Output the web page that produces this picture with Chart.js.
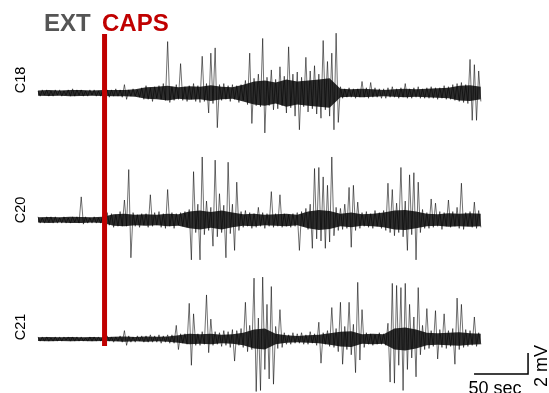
<!DOCTYPE html>
<html>
<head>
<meta charset="utf-8">
<script src="https://cdn.jsdelivr.net/npm/chart.js@4/dist/chart.umd.min.js"></script>
<style>
  body { margin: 0; background: #fff; }
  #wrap { width: 549px; height: 393px; }
</style>
</head>
<body>
<div id="wrap"><canvas id="traceChart" width="549" height="393"></canvas></div>
<script>
// one sample every 2 sec, values in mV
const STEP = 2;
const traceNames = ['C18', 'C20', 'C21'];

const c18 = [
  0.2,-0.3,0.3,-0.2,0.3,-0.3,0.2,-0.3,0.3,-0.2,
  0.3,-0.3,0.2,-0.2,0.3,-0.3,0.4,-0.3,0.3,-0.2,
  0.3,-0.3,0.2,-0.3,0.3,-0.2,0.3,-0.3,0.2,-0.3,
  0.3,-0.3,0.3,-0.4,0.3,-0.3,0.4,-0.3,0.3,-0.4,
  0.8,-0.6,0.3,-0.3,0.4,-0.3,0.3,-0.4,0.5,-0.6,
  0.7,-0.6,0.5,-0.8,0.6,-0.5,0.7,-0.6,0.9,-0.7,
  4.9,-0.9,0.6,-0.7,0.8,-0.6,2.8,-0.7,0.6,-0.8,
  0.7,-0.6,0.9,-0.8,0.7,-0.9,3.5,-0.8,0.9,-1.9,
  3.8,-1.0,4.3,-3.3,0.8,-0.7,0.9,-0.6,0.7,-0.8,
  0.8,-0.6,0.7,-0.9,0.8,-0.7,1.2,-1.1,3.8,-2.9,
  1.4,-1.2,1.8,-1.3,5.2,-3.8,1.5,-1.2,2.2,-1.6,
  1.3,-1.5,2.5,-1.2,1.6,-1.9,4.4,-1.4,1.8,-2.2,
  2.0,-3.5,1.5,-1.3,3.4,-1.8,2.1,-1.5,2.6,-2.0,
  1.8,-2.4,5.0,-1.6,3.0,-2.2,3.8,-3.5,5.7,-2.8,
  0.6,-0.5,0.4,-0.4,0.5,-0.4,0.4,-0.5,0.4,-0.4,
  1.1,-0.4,0.5,-0.5,1.0,-0.4,0.5,-0.4,0.4,-0.5,
  0.4,-0.5,0.5,-0.4,0.6,-0.4,0.4,-0.5,0.5,-0.4,
  0.9,-0.5,0.4,-0.5,0.5,-0.4,0.6,-0.5,0.4,-0.5,
  0.5,-0.5,0.6,-0.5,0.5,-0.6,0.5,-0.5,0.7,-0.6,
  0.6,-0.6,0.8,-0.7,0.9,-0.8,1.0,-0.9,0.8,-1.0,
  3.2,-2.6,2.7,-2.6,2.1,-0.8
];

const c20 = [
  0.3,-0.3,0.2,-0.3,0.3,-0.2,0.3,-0.3,0.3,-0.3,
  0.2,-0.3,0.3,-0.3,0.2,-0.3,0.3,-0.2,0.3,-0.3,
  2.2,-0.4,0.3,-0.3,0.2,-0.3,0.3,-0.3,0.2,-0.3,
  0.4,-0.6,0.7,-0.5,0.6,-0.7,0.5,-0.6,0.8,-0.6,
  1.9,-0.6,4.8,-3.6,0.7,-0.6,0.5,-0.7,0.6,-0.5,
  0.6,-0.7,2.4,-0.6,0.7,-0.5,0.8,-0.7,0.6,-0.8,
  2.9,-0.6,0.7,-0.8,0.6,-0.5,0.7,-0.6,0.8,-0.7,
  1.0,-3.8,4.6,-1.2,1.5,-3.8,6.0,-1.4,1.8,-1.0,
  1.2,-2.5,5.7,-1.6,2.5,-1.2,1.4,-3.6,5.5,-1.3,
  1.5,-2.9,3.6,-1.0,0.8,-0.7,0.9,-0.6,0.7,-0.8,
  0.6,-0.7,1.2,-0.6,0.7,-0.8,0.6,-0.6,2.7,-0.7,
  0.6,-0.6,2.4,-0.7,0.6,-0.6,0.5,-0.7,0.6,-0.6,
  0.7,-2.9,0.8,-0.6,1.1,-0.9,1.5,-2.7,4.9,-1.8,
  5.0,-2.0,4.1,-2.7,3.3,-2.1,6.0,-1.5,1.2,-1.0,
  1.1,-0.9,1.5,-0.8,3.1,-2.6,3.3,-1.0,1.7,-0.8,
  0.7,-0.6,0.8,-0.7,0.6,-0.8,0.9,-0.6,0.7,-0.8,
  0.9,-1.0,3.5,-1.2,2.9,-1.5,1.6,-1.2,5.0,-1.6,
  1.8,-2.9,4.3,-1.4,4.5,-3.8,3.6,-1.2,1.0,-0.8,
  0.7,-0.8,2.0,-0.7,1.6,-0.6,0.8,-0.9,0.7,-0.6,
  1.9,-0.7,0.8,-0.6,1.2,-0.8,3.5,-0.9,0.7,-0.6,
  0.8,-0.7,1.7,-0.8,0.9,-0.7
];

const c21 = [
  0.2,-0.2,0.2,-0.2,0.2,-0.2,0.1,-0.2,0.2,-0.2,
  0.2,-0.2,0.2,-0.1,0.2,-0.2,0.2,-0.2,0.2,-0.2,
  0.2,-0.2,0.1,-0.2,0.2,-0.2,0.2,-0.2,0.2,-0.2,
  0.2,-0.2,0.3,-0.2,0.2,-0.3,0.2,-0.2,0.3,-0.3,
  0.8,-0.6,0.3,-0.3,0.2,-0.3,0.3,-0.2,0.3,-0.3,
  0.3,-0.3,0.4,-0.3,0.3,-0.3,0.4,-0.4,0.3,-0.3,
  0.4,-0.4,0.4,-0.4,1.3,-1.0,0.5,-0.4,0.5,-0.5,
  3.4,-2.5,2.4,-0.6,0.5,-0.6,0.7,-0.5,4.2,-1.3,
  1.9,-0.6,0.7,-0.5,0.6,-0.7,0.8,-0.6,0.7,-0.8,
  0.9,-2.1,0.8,-0.6,1.0,-0.8,3.5,-1.2,1.3,-1.0,
  5.8,-5.0,2.0,-4.9,5.9,-2.9,3.3,-3.8,5.0,-4.3,
  1.2,-0.9,2.8,-0.8,0.6,-0.5,0.4,-0.5,0.6,-0.4,
  0.5,-0.4,0.6,-0.5,0.4,-0.5,0.7,-0.4,0.5,-0.6,
  1.6,-2.3,0.6,-0.5,0.8,-0.7,3.0,-0.8,1.0,-1.2,
  3.5,-2.4,1.2,-1.0,3.5,-1.5,1.4,-3.2,5.4,-2.0,
  2.8,-0.8,0.6,-0.5,0.5,-0.6,0.4,-0.5,0.6,-0.5,
  0.5,-0.6,1.5,-4.1,5.3,-4.2,5.1,-2.5,4.9,-4.9,
  5.3,-2.9,3.3,-1.8,2.1,-3.6,4.9,-1.5,1.3,-1.0,
  2.9,-0.9,0.8,-0.7,2.7,-1.9,0.9,-0.8,2.4,-0.9,
  0.8,-0.7,1.0,-2.4,3.9,-1.0,3.3,-0.8,0.9,-0.7,
  0.8,-0.6,2.1,-0.7,0.6,-0.5
];

// half-width of the dense noise band (mV), read every 10 sec
const envTimes = [0,10,20,30,40,50,60,70,80,90,100,110,120,130,140,150,160,170,180,190,200,
                  210,220,230,240,250,260,270,280,290,300,310,320,330,340,350,360,370,380,390,400,410];
const c18Env = [0.25,0.28,0.25,0.3,0.28,0.25,0.28,0.3,0.3,0.35,
                0.55,0.6,0.7,0.55,0.65,0.6,0.75,0.6,0.55,0.8,
                1.1,1.2,1.0,1.3,1.1,1.2,1.3,1.4,0.4,0.35,
                0.4,0.35,0.3,0.35,0.4,0.35,0.4,0.45,0.5,0.7,
                0.75,0.6];
const c20Env = [0.25,0.28,0.25,0.3,0.28,0.25,0.3,0.55,0.6,0.5,
                0.55,0.5,0.6,0.55,0.8,0.9,0.75,0.9,0.7,0.55,
                0.6,0.5,0.55,0.6,0.5,0.8,0.95,0.85,0.6,0.7,
                0.55,0.6,0.7,0.9,0.95,0.8,0.6,0.55,0.65,0.6,
                0.65,0.6];
const c21Env = [0.18,0.2,0.18,0.2,0.18,0.2,0.18,0.22,0.25,0.2,
                0.25,0.22,0.25,0.35,0.5,0.45,0.5,0.4,0.45,0.6,
                0.9,1.0,0.5,0.35,0.3,0.35,0.4,0.55,0.7,0.75,
                0.45,0.5,0.45,1.0,1.1,0.9,0.6,0.55,0.6,0.65,
                0.55,0.5];

// capsaicin applied at this time (sec)
const capsTime = 61.6;
const scaleBarSec = 50;
const scaleBarMV = 2;

// layout: vertical placement of each trace (mV on the shared axis)
const baselines = [-8.86, -20.95, -32.29];
const labelY = [80, 210, 327];

const traces = [c18, c20, c21];
const envs = [c18Env, c20Env, c21Env];

function toPoints(values, base) {
  return values.map((v, i) => ({ x: i * STEP, y: v + base }));
}

const datasets = [];
// red marker on top
datasets.push({
  data: [{ x: capsTime, y: -3.24 }, { x: capsTime, y: -32.95 }],
  borderColor: '#c00000',
  borderWidth: 5,
  pointRadius: 0
});
traces.forEach((t, k) => {
  datasets.push({
    label: traceNames[k],
    data: toPoints(t, baselines[k]),
    borderColor: 'rgba(0,0,0,0.8)',
    borderWidth: 0.7,
    pointRadius: 0,
    tension: 0
  });
});
// scale bar
const sbX = 403.7, sbY = -35.62;
datasets.push({
  data: [{ x: sbX, y: sbY }, { x: sbX + scaleBarSec, y: sbY }, { x: sbX + scaleBarSec, y: sbY + scaleBarMV }],
  borderColor: '#000',
  borderWidth: 1.5,
  pointRadius: 0
});
// noise bands underneath
envs.forEach((e, k) => {
  const lowIdx = datasets.length;
  datasets.push({
    data: e.map((v, i) => ({ x: envTimes[i], y: baselines[k] - v })),
    borderWidth: 0,
    pointRadius: 0,
    fill: false
  });
  datasets.push({
    data: e.map((v, i) => ({ x: envTimes[i], y: baselines[k] + v })),
    borderWidth: 0,
    pointRadius: 0,
    backgroundColor: 'rgba(0,0,0,0.82)',
    fill: lowIdx
  });
});

const textPlugin = {
  id: 'texts',
  afterDraw(chart) {
    const ctx = chart.ctx;
    ctx.save();
    ctx.font = 'bold 24px "Liberation Sans", Arial, sans-serif';
    ctx.textBaseline = 'alphabetic';
    ctx.textAlign = 'left';
    ctx.fillStyle = '#555555';
    ctx.fillText('EXT', 44, 31);
    ctx.fillStyle = '#c00000';
    ctx.fillText('CAPS', 102, 31);

    ctx.fillStyle = '#000';
    ctx.font = '14.5px "Liberation Sans", Arial, sans-serif';
    ctx.textAlign = 'center';
    traceNames.forEach((name, k) => {
      ctx.save();
      ctx.translate(25, labelY[k]);
      ctx.rotate(-Math.PI / 2);
      ctx.fillText(name, 0, 0);
      ctx.restore();
    });

    const xs = chart.scales.x;
    ctx.font = '18px "Liberation Sans", Arial, sans-serif';
    ctx.fillText(scaleBarSec + ' sec', xs.getPixelForValue(sbX + scaleBarSec / 2) - 6, 394);
    ctx.save();
    ctx.translate(547, 366);
    ctx.rotate(-Math.PI / 2);
    ctx.fillText(scaleBarMV + ' mV', 0, 0);
    ctx.restore();
    ctx.restore();
  }
};

new Chart(document.getElementById('traceChart').getContext('2d'), {
  type: 'line',
  data: { datasets: datasets },
  options: {
    responsive: false,
    animation: false,
    devicePixelRatio: 1,
    layout: { padding: 0 },
    plugins: { legend: { display: false }, tooltip: { enabled: false } },
    scales: {
      x: { type: 'linear', display: false, min: -35.2, max: 473.1 },
      y: { type: 'linear', display: false, min: -37.43, max: 0 }
    }
  },
  plugins: [textPlugin]
});
</script>
</body>
</html>
